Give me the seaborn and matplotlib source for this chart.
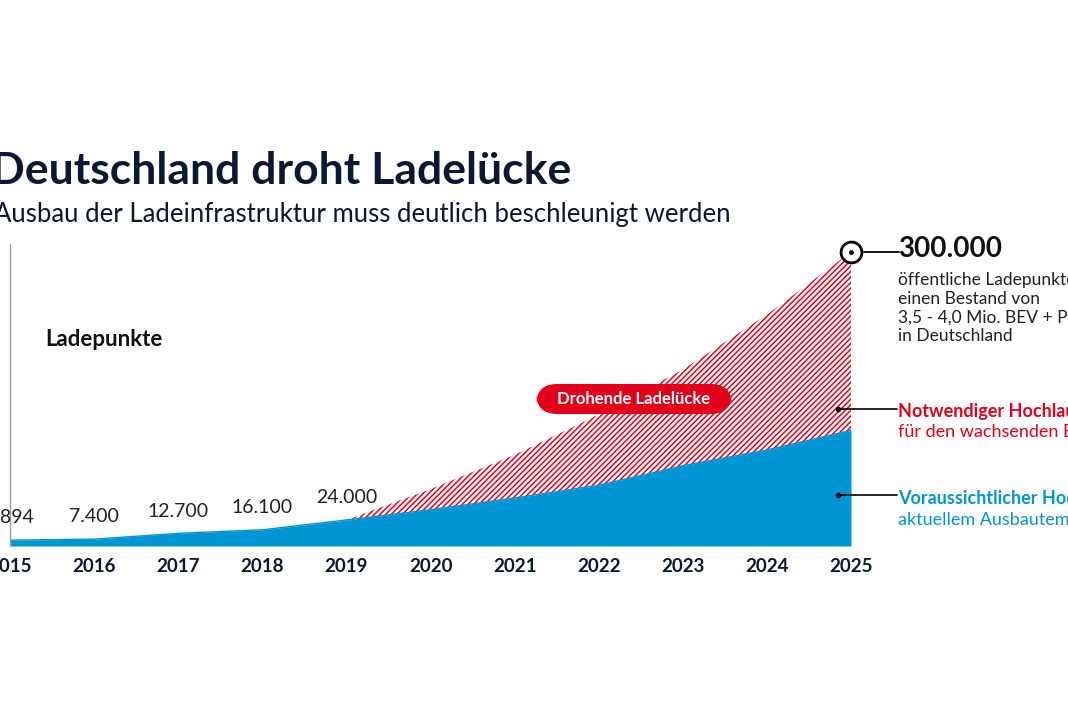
import numpy as np
import pandas as pd
import seaborn as sns
import matplotlib
matplotlib.use('Agg')
from matplotlib import pyplot as plt
from matplotlib.patches import FancyBboxPatch

years = [2015, 2016, 2017, 2018, 2019, 2020, 2021, 2022, 2023, 2024, 2025]
# expected growth at current pace (blue area)
expected = [6000, 7000, 13000, 16500, 26500, 37000, 49000, 62000, 82000, 98000, 118000]
# required growth (hatched red area), starts at 2019
required_years = [2019, 2020, 2021, 2022, 2023, 2024, 2025]
required = [26500, 58000, 93000, 134000, 180000, 236000, 300000]
label_years = [2015, 2016, 2017, 2018, 2019]
label_texts = ['4.894', '7.400', '12.700', '16.100', '24.000']

NAVY = '#0c1733'
RED = '#e2001a'
BLUE = '#0096d6'

sns.set_style('white')
plt.rcParams['font.family'] = ['Lato', 'DejaVu Sans']
plt.rcParams['hatch.color'] = RED
plt.rcParams['hatch.linewidth'] = 1.1

fig = plt.figure(figsize=(10.68, 7.12), dpi=100)
ax = fig.add_axes([10 / 1068, 166 / 712, 841 / 1068, 294 / 712])

df = pd.DataFrame({'year': years, 'expected': expected})
dr = pd.DataFrame({'year': required_years, 'required': required})

xs = np.linspace(2015, 2025, 300)
xr = np.linspace(2019, 2025, 200)
ys = np.interp(xs, df.year, df.expected)
yr = np.interp(xr, dr.year, dr.required)
ax.fill_between(xr, 0, yr, facecolor='white', edgecolor=RED, hatch='//////', linewidth=0)
ax.fill_between(xs, 0, ys, color=BLUE, linewidth=0)
sns.lineplot(x=xs, y=ys, ax=ax, color=BLUE, linewidth=1)

ax.set_xlim(2015, 2025)
ax.set_ylim(0, 300000)
for s in ax.spines.values():
    s.set_visible(False)
ax.set_yticks([])
ax.set_xticks(years)
ax.set_xticklabels([str(y) for y in years], fontsize=13.5, fontweight='bold', color=NAVY)
ax.tick_params(axis='x', length=0, pad=9)
ax.set_xlabel('')
ax.set_ylabel('')

# left axis line
ax.plot([2015, 2015], [0, 308000], color='#9aa3ad', linewidth=1, clip_on=False)

for yr_, t in zip(label_years, label_texts):
    i = years.index(yr_)
    ax.text(yr_, expected[i] + 14000, t, ha='center', va='bottom', fontsize=14, color='#222222')

# top marker
ax.plot(2025, 300000, marker='o', markersize=15, markerfacecolor='white',
        markeredgecolor='black', markeredgewidth=2, clip_on=False, zorder=5)
ax.plot(2025, 300000, marker='o', markersize=2.5, color='black', clip_on=False, zorder=6)
ax.plot([2025.16, 2025.57], [300000, 300000], color='black', linewidth=1.3, clip_on=False)

# right annotations
ax.plot([2024.85, 2025.55], [140000, 140000], color='black', linewidth=1.2, clip_on=False)
ax.plot(2024.85, 140000, marker='o', markersize=3, color='black', clip_on=False)
ax.plot([2024.85, 2025.55], [52000, 52000], color='black', linewidth=1.2, clip_on=False)
ax.plot(2024.85, 52000, marker='o', markersize=3, color='black', clip_on=False)

fig.text(898 / 1068, 1 - 249 / 712, '300.000', fontsize=20, fontweight='bold', color='#111111', va='center')
fig.text(898 / 1068, 1 - 272 / 712,
         'öffentliche Ladepunkte für\neinen Bestand von\n3,5 - 4,0 Mio. BEV + PHEV\nin Deutschland',
         fontsize=12.5, color='#222222', va='top', linespacing=1.2)
fig.text(898 / 1068, 1 - 411 / 712, 'Notwendiger Hochlauf', fontsize=13, fontweight='bold', color=RED, va='center')
fig.text(898 / 1068, 1 - 432 / 712, 'für den wachsenden Bestand', fontsize=13, color=RED, va='center')
fig.text(898 / 1068, 1 - 499 / 712, 'Voraussichtlicher Hochlauf', fontsize=13, fontweight='bold', color=BLUE, va='center')
fig.text(898 / 1068, 1 - 520 / 712, 'aktuellem Ausbautempo', fontsize=13, color=BLUE, va='center')

# badge
badge = FancyBboxPatch((536 / 1068, 1 - 414 / 712), 196 / 1068, 30 / 712,
                       boxstyle='round,pad=0,rounding_size=0.02', transform=fig.transFigure,
                       facecolor=RED, edgecolor='none', mutation_aspect=1.5)
fig.patches.append(badge)
fig.text(634 / 1068, 1 - 399 / 712, 'Drohende Ladelücke', fontsize=12, fontweight='bold',
         color='white', ha='center', va='center')

# titles
fig.text(-0.008, 1 - 171 / 712, 'Deutschland droht Ladelücke', fontsize=32, fontweight='bold', color=NAVY, va='center')
fig.text(-0.006, 1 - 215 / 712, 'Ausbau der Ladeinfrastruktur muss deutlich beschleunigt werden',
         fontsize=18.5, color=NAVY, va='center')
fig.text(45 / 1068, 1 - 339 / 712, 'Ladepunkte', fontsize=16, fontweight='bold', color='#111111', va='center')

fig.savefig('out.png', dpi=100, facecolor='white')
